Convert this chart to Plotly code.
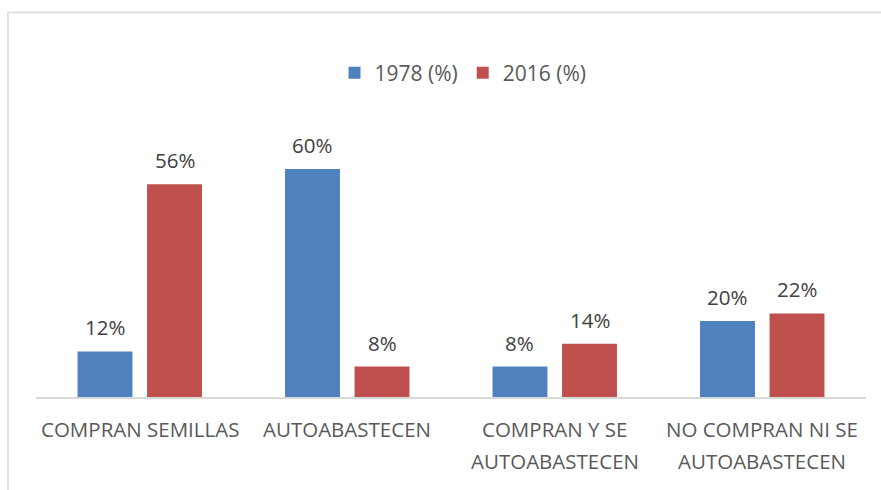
import plotly.graph_objects as go

categories = ["COMPRAN SEMILLAS", "AUTOABASTECEN", "COMPRAN Y SE AUTOABASTECEN", "NO COMPRAN NI SE AUTOABASTECEN"]
label_line1 = ["COMPRAN SEMILLAS", "AUTOABASTECEN", "COMPRAN Y SE", "NO COMPRAN NI SE"]
label_line2 = ["", "", "AUTOABASTECEN", "AUTOABASTECEN"]
series_names = ["1978 (%)", "2016 (%)"]
values_1978 = [12, 60, 8, 20]
values_2016 = [56, 8, 14, 22]

colors = ["#4F81BD", "#C0504D"]
FONT = "Open Sans"
W, H = 881, 490
ML, MR, MT, MB = 36, 15, 55, 93
plot_w = W - ML - MR
plot_h = H - MT - MB
slot_px = plot_w / len(categories) * (1 - 0.33) / 2

fig = go.Figure()
for name, vals, col in zip(series_names, [values_1978, values_2016], colors):
    fig.add_trace(go.Bar(x=categories, y=vals, name=name, marker=dict(color=col, line=dict(width=0))))

annotations = []
for si, vals in enumerate([values_1978, values_2016]):
    shift = -slot_px / 2 if si == 0 else slot_px / 2
    for c, v in zip(categories, vals):
        annotations.append(dict(x=c, y=v, xref="x", yref="y", text=f"{v}%", showarrow=False,
                                xshift=shift, yshift=24, yanchor="middle",
                                font=dict(family=FONT, size=20.5, color="#404040")))
for c, l1, l2 in zip(categories, label_line1, label_line2):
    annotations.append(dict(x=c, y=-32 / plot_h, xref="x", yref="paper", text=l1, showarrow=False,
                            yanchor="middle", font=dict(family=FONT, size=20.5, color="#595959")))
    if l2:
        annotations.append(dict(x=c, y=-64 / plot_h, xref="x", yref="paper", text=l2, showarrow=False,
                                yanchor="middle", font=dict(family=FONT, size=20.5, color="#595959")))

fig.update_layout(
    width=W, height=H,
    margin=dict(l=ML, r=MR, t=MT, b=MB),
    paper_bgcolor="white", plot_bgcolor="white",
    barmode="group", bargap=0.33, bargroupgap=0.21,
    showlegend=True,
    legend=dict(orientation="h", x=0.5 + 12 / plot_w, xanchor="center", y=(397 - 73) / plot_h, yanchor="middle",
                font=dict(family=FONT, size=21, color="#595959")),
    xaxis=dict(showticklabels=False, showline=True, linecolor="#D9D9D9", linewidth=1.5,
               ticks="", showgrid=False, zeroline=False),
    yaxis=dict(range=[0, 90], visible=False, showgrid=False, zeroline=False),
    annotations=annotations,
    shapes=[dict(type="rect", xref="paper", yref="paper",
                 x0=(8 - ML) / plot_w, x1=1.1, y0=-0.5, y1=(397 - 12.5) / plot_h,
                 line=dict(color="#D9D9D9", width=1.5), fillcolor="rgba(0,0,0,0)", layer="below")],
    font=dict(family=FONT),
)

fig.write_html("out.html", config={"displayModeBar": False},
               post_script="document.body.style.margin='0px';")
